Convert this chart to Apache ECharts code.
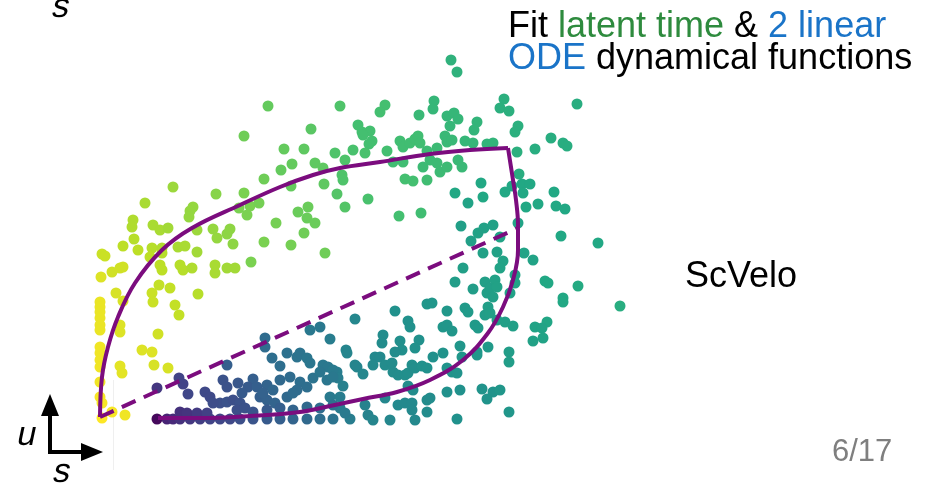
<!DOCTYPE html>
<html>
<head>
<meta charset="utf-8">
<script src="https://cdn.jsdelivr.net/npm/echarts@6/dist/echarts.min.js"></script>
<style>
html,body{margin:0;padding:0;background:#fff;}
#main{width:928px;height:485px;}
</style>
</head>
<body>
<div id="main"></div>
<script>
// cells: [s (spliced), u (unspliced), latent time]
var yellowLeft = [
[16.8,31.2,.76],[21.1,28.9,.74],[14.4,28.2,.78],[18.4,26.9,.76],[20.4,26.9,.75],[19.2,25.4,.76],[18.1,24.8,.76],
[21.5,25.5,.75],[22.3,25,.75],[16.4,23.9,.78],[22.4,23.4,.75],[19.1,23.2,.76],[14.4,22.5,.8],[13.9,21,.8],
[15,21.2,.8],[15.9,21.5,.79],[14.7,20.3,.8],[11.6,22.4,.82],[7.3,23.1,.85],[4.5,21.5,.87],[9.3,21.1,.84],
[9,20.7,.84],[8.9,20.1,.84],[19.8,20.6,.77],[20.8,21.1,.77],[20.7,20,.77],[21.5,19.5,.77],[17.6,19.5,.79],
[20.4,18.5,.78],[16.4,17.6,.8],[19.1,17.3,.79],[22.5,16.5,.78],[3.3,19.8,.88],[3.2,19.1,.88],[5.3,19.3,.87],
[6,18.8,.87],[6.8,19,.86],[3.4,17.9,.89],[2.3,17.2,.9],[3.8,16.8,.9],[5.2,17,.89],[0.2,16.4,.92],[0.5,16.2,.92],
[9.7,18.8,.85],[11.3,18.9,.84],[11.7,18,.84],[12.7,18.4,.83],[13,18.9,.83],[13.3,17.4,.83],[7.8,17.1,.87],
[8.5,17.2,.87],[9.7,16.6,.86],[6.2,17,.88],[5,16.1,.9],[6.2,16.5,.89],[15.1,15.6,.8],[1.2,14.6,.93],[2,15,.93],
[2.3,15.1,.93],[0.1,14.1,.95],[6,15.3,.9],[6.2,14.8,.9],[8,15.3,.89],[8.3,14.8,.89],[9.2,15,.88],[11.5,15.3,.87],
[11.5,14.5,.87],[12.7,15,.86],[13.5,15,.86],[1.6,12.5,.94],[2.3,11.7,.94],[5.2,12.5,.92],[5.3,11.6,.92],
[5.9,13.3,.91],[7,13,.91],[9.8,12.4,.89],[0,11.6,.97],[0,11.1,.97],[0,10.6,.97],[0,10,.97],[0,9.3,.97],[0,8.8,.97],
[2,9.3,.95],[2,8.6,.95],[7.5,11.3,.91],[7.9,10.3,.91],[5.8,8.4,.93],[0,7.1,.98],[0,6.5,.98],[0,5.8,.98],[0,5.1,.98],
[4.2,6.8,.95],[5.2,6.6,.95],[2,5.2,.96],[2.2,4.5,.96],[5.4,5.3,.94],[6.8,5,.94],[0,3.6,.98],[0,2.1,.99],
[0.2,1.5,.99],[0.2,0,1],[1.2,0.6,.99],[2.5,0.3,.98]
];
var greenTop = [
[35.1,35.8,.64],[35.7,34.6,.64],[47.7,31.4,.62],[40.4,31.9,.63],[33.4,31.7,.66],[28.5,31.3,.7],[24,31.2,.72],
[28,30.6,.7],[33.3,30.9,.66],[31.9,30.3,.67],[34.7,30.2,.66],[35.4,30.5,.66],[35.8,29.9,.66],[35,29.2,.66],
[37.7,29.6,.65],[37.4,28.8,.65],[40,31,.63],[40.9,30.7,.63],[41.8,29.2,.63],[41.5,28.6,.63],[25.8,29.3,.7],
[26.2,28.6,.7],[27,28.7,.7],[26.3,28.3,.7],[27.2,27.7,.7],[26.9,27.4,.7],[23.5,26.5,.72],[24.5,25.8,.72],
[25.3,26.8,.71],[26.5,26.5,.71],[28.7,26.7,.7],[30,27.7,.69],[30.3,27.1,.69],[31,27.5,.69],[31.5,27.9,.69],
[31.8,28.2,.69],[32,27.5,.69],[29.3,25.6,.69],[30.3,25.6,.69],[32.7,26.7,.68],[33.7,27,.68],[33,25.8,.68],
[33.7,25.5,.68],[34,24.6,.68],[34.7,25.1,.68],[32.3,25.1,.68],[34.5,28.2,.67],[34.7,27.6,.67],[35.2,27.8,.67],
[36.5,27.7,.66],[37.3,27.5,.66],[35.8,25.8,.67],[36.2,25.1,.67],[38.7,27.4,.65],[39.3,27.5,.65],[41.7,26.6,.63],
[43.5,26.9,.62],[45.1,28,.62],[46.3,27.5,.62],[46.7,27.2,.62],[24.2,24.3,.72],[24.3,23.8,.72],[23.7,22.4,.73],
[26.8,21.9,.71],[24.5,21.1,.73],[30.5,23.9,.7],[31.3,23.7,.7],[32.7,23.8,.69],[29.9,20.2,.7],[32.1,20.5,.69]
];
var tealRight = [
[35.5,22.5,.6],[38.1,23.5,.6],[38.3,22.1,.6],[36.8,21.5,.58],[41.9,24.4,.62],[40.5,22.6,.6],[41.2,23.2,.6],
[42.2,23.4,.6],[43,23.4,.6],[42.3,22.5,.6],[45.4,22.6,.6],[43.8,21.4,.6],[42.6,21.1,.6],[45.6,21.2,.6],
[46.5,20.9,.6],[41.8,19.5,.58],[36.1,19.2,.56],[37.8,18.5,.57],[38.4,19,.57],[39.3,19.3,.57],[40,18.1,.58],
[37.1,17.7,.56],[46.1,18.2,.6],[49.8,17.5,.6],[38.3,16.5,.57],[39.7,16.6,.57],[42.4,16.5,.58],[43.3,15.8,.58],
[40.3,15.7,.58],[40,15,.58],[36.3,15,.56],[35.5,13.6,.55],[37.3,12.9,.55],[38.5,13.6,.56],[38.7,12.5,.56],
[39,13,.56],[39.5,13.8,.57],[39.7,13.1,.57],[39.3,12.1,.56],[41.5,14.3,.58],[41.5,13.5,.58],[41,12.5,.57],
[44.5,13.7,.6],[44.8,13.5,.6],[47.8,13.2,.61],[46.3,12,.6],[46.3,11.6,.6],[52,11.2,.62],[38.8,11.1,.56],
[38.5,10.3,.55],[39,10.5,.56],[43.5,9.1,.58],[44.7,9.6,.59],[44.2,9,.58],[44.3,8,.58],[43.3,7.7,.57],
[39.7,9.8,.56],[40.5,9.6,.56],[41.3,9.2,.56],[40.9,6.6,.55],[40.9,5.6,.55],[40.9,0.6,.52]
];
var tealMid = [
[32.7,11.4,.52],[33.2,11.5,.52],[29.5,10.7,.5],[34.7,10.7,.53],[36.5,11,.54],[36.8,10.6,.54],[25.5,9.9,.46],
[30.8,9.7,.5],[31,9.1,.5],[34.3,9.1,.52],[34.7,9.3,.52],[35.2,8.7,.52],[37.5,9.3,.54],[37.8,9,.54],
[28.3,8.3,.48],[28.2,7.5,.48],[30,7.7,.49],[30.2,6.8,.49],[29.5,6.6,.48],[31.9,7.8,.5],[31.5,7,.5],
[24.6,6.8,.45],[24.7,6.5,.45],[33.3,6.1,.5],[34.3,6.5,.51],[36,7.2,.52],[36.2,6.1,.52],[37.7,6.6,.53],
[37.7,6.3,.53],[38.8,7.1,.54],[27.5,6.1,.47],[28,6.1,.47],[27.3,5.3,.47],[28.5,5.3,.48],[29.2,5.5,.48],
[29.3,4.6,.48],[25.5,5.3,.45],[25.7,5.1,.45],[26.3,4.4,.46],[29.8,4.3,.48],[30.5,4.3,.49],[30.8,4.5,.49],
[31.2,5.3,.49],[31.5,5,.49],[32.2,5.2,.5],[32.7,5,.5],[34.7,5,.51],[35.2,4.6,.51],[35.7,4.5,.51],
[23.7,4.6,.42],[23.8,4,.42],[24.3,3.2,.43],[30.8,3.2,.48],[31.3,2.8,.48],[34.7,2.6,.5],[36,2.8,.5],
[38.2,2.9,.51],[39.3,2.6,.51],[40,2.8,.52],[38.7,1.9,.51],[23,2.1,.41],[24,2.1,.42],[26.5,1.3,.44],
[26.8,0.3,.44],[27.3,-0.2,.45],[28.5,2,.46],[29.8,1.3,.47],[30.5,1.5,.47],[31.2,1.5,.47],[31.2,0.8,.47],
[32.7,1.8,.48],[33,2,.48],[32.7,0.6,.48],[29,-0.2,.46],[31.5,-0.2,.47],[35.7,-0.1,.5],[24,1,.41],
[25,-0.1,.42],[24.5,0.5,.41]
];
var blueBottom = [
[7.9,4,.2],[8.3,3.4,.2],[5.7,3,.16],[8.8,2.4,.21],[12.7,5.3,.3],[16.5,8,.35],[16.5,7.1,.35],[21,8.8,.4],
[22,9.1,.4],[23,7.9,.42],[17.2,6,.36],[18,5.2,.36],[18.7,6.5,.37],[19.7,6.1,.38],[20,6.5,.38],[20.7,6,.39],
[21,5.5,.39],[22.3,5.3,.4],[22.8,5.1,.4],[23.3,4.8,.41],[15.3,3.9,.3],[14.8,3.1,.28],[13.8,3.5,.27],
[14.2,2.5,.28],[12.3,3.8,.25],[12.7,3.1,.25],[10.5,2.6,.22],[11,2.1,.22],[12,1.5,.24],[12.7,1.6,.25],
[11.3,1.5,.23],[16.7,3.3,.32],[17.3,2.8,.33],[18,3.8,.34],[19,4.1,.35],[20,3.6,.36],[20.7,3.1,.36],
[19.7,2.8,.35],[21.3,4,.38],[22,4.6,.39],[22.7,3.8,.39],[23.3,4.1,.4],[16,2.1,.3],[16.7,1.8,.31],
[17.5,1.5,.32],[18.7,2.1,.34],[19.3,2.5,.35],[15.7,3.1,.3],[16.3,2.5,.31],[13.3,1.8,.24],[14,1.5,.25],
[13.7,0.8,.24],
[5.7,-0.1,.02],[6.7,-0.1,.1],[7.3,-0.1,.12],[8,-0.1,.14],[9,-0.1,.16],[10,-0.1,.18],[11,-0.1,.2],
[12,-0.1,.21],[13,-0.1,.22],[14,-0.1,.24],[15.3,-0.1,.26],[16.7,-0.1,.28],[18,-0.1,.3],[19.3,-0.1,.32],
[20.7,-0.1,.34],[22,-0.1,.36],[23.3,-0.1,.38],
[8,0.6,.14],[8.7,0.5,.15],[9.7,0.5,.17],[10.7,0.5,.19],
[14.5,1,.25],[15.3,0.6,.26],[16.7,0.8,.28],[18,1,.3],[19.3,0.8,.32],[20.7,1.1,.34],[22,1,.35],[23.3,1.3,.37]
];
// fitted dynamics
var inductionCurve = [[5.8,0],[10,0],[15,0.2],[20,0.6],[23,1.2],[26.3,1.9],[29.7,2.6],[33,3.8],[36.3,5.8],
[38.8,8.5],[40.3,11.1],[41.3,13.8],[41.8,16.8],[41.8,19.3],[41.6,21.8],[41.3,23.8],[40.8,27]];
var repressionCurve = [[40.8,27],[37,26.8],[33,26.4],[28,25.6],[24,25],[21.3,24.3],[18,23.1],[14,21.3],
[9.2,19],[6.2,16.8],[3.5,13.5],[1.8,10.1],[0.8,7.1],[0.2,4.1],[0,0.1]];
var steadyStateLine = [[0,0.1],[41.8,19]];

var viridis = ['#440154','#482475','#414487','#355f8d','#2a788e','#21918c','#22a884','#44bf70','#7ad151','#bddf26','#fde725'];
var cells = yellowLeft.concat(greenTop, tealRight, tealMid, blueBottom);
var curveColor = '#7b0c7e';
var FF = '"Liberation Sans", Arial, sans-serif';

var chart = echarts.init(document.getElementById('main'), null, {renderer:'canvas'});
chart.setOption({
  animation:false,
  backgroundColor:'#ffffff',
  grid:{left:50, top:38, width:600, height:420},
  xAxis:{type:'value', min:-5, max:55, show:false},
  yAxis:{type:'value', min:-4, max:38, show:false},
  visualMap:{type:'continuous', show:false, dimension:2, seriesIndex:0, min:0, max:1, inRange:{color:viridis}},
  series:[
    {type:'scatter', data:cells, symbolSize:11, clip:false, itemStyle:{opacity:1}, z:2},
    {type:'line', data:inductionCurve, smooth:0.4, showSymbol:false, clip:false, lineStyle:{color:curveColor, width:4}, z:5},
    {type:'line', data:repressionCurve, smooth:0.4, showSymbol:false, clip:false, lineStyle:{color:curveColor, width:4}, z:5},
    {type:'line', data:steadyStateLine, showSymbol:false, clip:false, lineStyle:{color:curveColor, width:4, type:[15,9]}, z:5}
  ],
  graphic:[
    {type:'text', x:508, y:9, style:{text:'Fit {g|latent time} & {b|2 linear}', fontSize:36, fontFamily:FF, fill:'#000', verticalAlign:'top',
      rich:{g:{fill:'#2e8b3e', fontSize:36, fontFamily:FF}, b:{fill:'#1a74c8', fontSize:36, fontFamily:FF}}}},
    {type:'text', x:508, y:41, style:{text:'{b|ODE} dynamical functions', fontSize:36, fontFamily:FF, fill:'#000', verticalAlign:'top',
      rich:{b:{fill:'#1a74c8', fontSize:36, fontFamily:FF}}}},
    {type:'text', x:685, y:259, style:{text:'ScVelo', fontSize:36, fontFamily:FF, fill:'#000', verticalAlign:'top'}},
    {type:'text', x:832, y:437, style:{text:'6/17', fontSize:31, fontFamily:FF, fill:'#7f7f7f', verticalAlign:'top'}},
    {type:'text', x:56, y:-9, skewX:-0.21, style:{text:'s', fontSize:34, fontFamily:FF, fill:'#000', verticalAlign:'top'}},
    {type:'text', x:21, y:419, skewX:-0.21, style:{text:'u', fontSize:34, fontFamily:FF, fill:'#000', verticalAlign:'top'}},
    {type:'text', x:57, y:456, skewX:-0.21, style:{text:'s', fontSize:34, fontFamily:FF, fill:'#000', verticalAlign:'top'}},
    {type:'polyline', shape:{points:[[50,452],[50,412]]}, style:{stroke:'#000', lineWidth:4}},
    {type:'polygon', shape:{points:[[50,394],[41,416],[59,416]]}, style:{fill:'#000'}},
    {type:'polyline', shape:{points:[[48,452],[84,452]]}, style:{stroke:'#000', lineWidth:4}},
    {type:'polygon', shape:{points:[[103,452],[81,443],[81,461]]}, style:{fill:'#000'}},
    {type:'line', shape:{x1:113.5, y1:380, x2:113.5, y2:470}, style:{stroke:'#efefef', lineWidth:1}, z:-1}
  ]
});
</script>
</body>
</html>
